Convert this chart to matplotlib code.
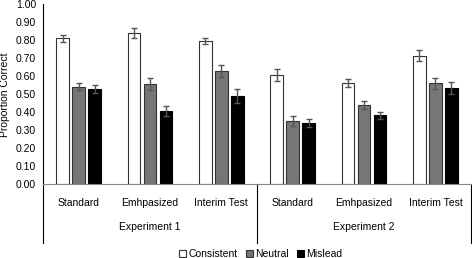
import numpy as np
import matplotlib
matplotlib.use("Agg")
import matplotlib.pyplot as plt

plt.rcParams['font.family'] = ['Liberation Sans', 'DejaVu Sans']

conditions = ["Standard", "Emhpasized", "Interim Test",
              "Standard", "Emhpasized", "Interim Test"]
experiments = ["Experiment 1", "Experiment 2"]
series = ["Consistent", "Neutral", "Mislead"]

consistent = [0.81, 0.84, 0.795, 0.607, 0.561, 0.714]
neutral = [0.542, 0.556, 0.628, 0.35, 0.439, 0.561]
mislead = [0.529, 0.409, 0.489, 0.339, 0.383, 0.537]

consistent_err = [0.02, 0.03, 0.016, 0.032, 0.023, 0.03]
neutral_err = [0.02, 0.032, 0.032, 0.027, 0.021, 0.03]
mislead_err = [0.022, 0.027, 0.04, 0.023, 0.02, 0.034]

values = [consistent, neutral, mislead]
errors = [consistent_err, neutral_err, mislead_err]
fills = ["white", "#767676", "black"]
edges = ["#333333", "#333333", "black"]

fs = 7.5
fig = plt.figure(figsize=(4.72, 2.58), dpi=100)
ax = fig.add_axes([0.091, 0.2857, 0.907, 0.6977])

x = np.arange(len(conditions))
w = 0.18
offs = [-0.224, 0, 0.224]
for vals, errs, fc, ec, off, name in zip(values, errors, fills, edges, offs, series):
    ax.bar(x + off, vals, w, color=fc, edgecolor=ec, linewidth=0.8, label=name,
           yerr=errs, error_kw=dict(ecolor="#555555", elinewidth=1.0, capsize=2.5, capthick=1.0))

ax.set_xlim(-0.5, 5.5)
ax.set_ylim(0, 1.0)
ax.set_yticks(np.arange(0, 1.01, 0.1))
ax.set_yticklabels([f"{v:.2f}" for v in np.arange(0, 1.01, 0.1)], fontsize=fs)
ax.set_xticks(x)
ax.set_xticklabels(conditions, fontsize=fs)
ax.tick_params(axis='x', length=0, pad=10)
ax.tick_params(axis='y', length=0, pad=5)
ax.set_ylabel("Proportion Correct", fontsize=fs, labelpad=4)

for s in ["top", "right"]:
    ax.spines[s].set_visible(False)
ax.spines["bottom"].set_color("#888888")
ax.spines["left"].set_color("black")
ax.spines["left"].set_linewidth(0.8)

# group dividers below axis
trans = ax.get_xaxis_transform()
for xd in [-0.5, 2.5, 5.5]:
    ax.plot([xd, xd], [0, -0.325], color="black", lw=0.8, transform=trans, clip_on=False)
for i, name in enumerate(experiments):
    ax.text(1 + 3 * i, -0.237, name, transform=trans, ha="center", va="center", fontsize=fs)

ax.legend(loc="center", bbox_to_anchor=(0.509, -0.388), ncol=3, frameon=False,
          fontsize=fs, handlelength=0.7, handleheight=0.7, handletextpad=0.2,
          columnspacing=0.8)

fig.savefig("out.png", dpi=100)
